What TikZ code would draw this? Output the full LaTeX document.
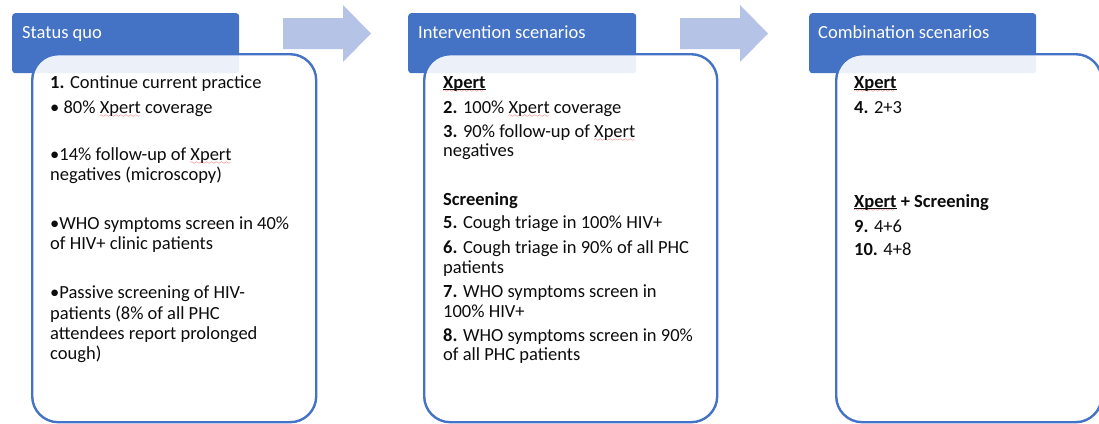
\documentclass[tikz,border=0pt]{standalone}
\usepackage{fontspec}
\setmainfont{Carlito}
\definecolor{hblue}{HTML}{4472C4}
\definecolor{arrowc}{HTML}{B4C3E6}
\definecolor{spellred}{HTML}{F02020}
\definecolor{txt}{HTML}{0D0D0D}
\font\wavefont=lasy6
\newsavebox\spbox
\newsavebox\ulbox
\newcommand\spell[1]{\leavevmode\sbox\spbox{#1}\rlap{\color{spellred}\lower4.6pt\hbox to\wd\spbox{\leaders\hbox{\wavefont\char58}\hfil}}\usebox\spbox}
\newcommand\uln[1]{\leavevmode\sbox\ulbox{#1}\rlap{\rule[-2.2pt]{\wd\ulbox}{1.1pt}}\usebox\ulbox}
\newcommand\bodyfont{\fontsize{18.5}{20}\selectfont}
\tikzset{
  hdr/.style={fill=hblue, rounded corners=3pt, draw=none, inner sep=0, anchor=north west},
  panel/.style={draw=hblue, line width=2.4pt, fill=white, fill opacity=0.9, draw opacity=1,
                rounded corners=26pt, inner sep=0, anchor=north west},
  hdrtext/.style={text=white, font=\bodyfont, anchor=base west, inner sep=0},
  bodytext/.style={text=txt, font=\bodyfont, anchor=base west, inner sep=0},
  blockarrow/.style={fill=arrowc, draw=none},
}
\begin{document}
\begin{tikzpicture}[x=1pt, y=-1pt]
\useasboundingbox (0,0) rectangle (1099,423);

% headers
\node[hdr, minimum width=227, minimum height=60] (h1) at (12,13) {};
\node[hdr, minimum width=228, minimum height=60] (h2) at (408,13) {};
\node[hdr, minimum width=227, minimum height=60] (h3) at (809,13) {};

\node[hdrtext] (t1) at (22,38) {Status quo};
\node[hdrtext] (t2) at (418,38) {Intervention scenarios};
\node[hdrtext] (t3) at (818,38) {Combination scenarios};

% panels
\node[panel, minimum width=284, minimum height=368] (p1) at (31,53) {};
\node[panel, minimum width=293, minimum height=368] (p2) at (423,53) {};
\node[panel, minimum width=265.5, minimum height=368] (p3) at (835,53) {};

% block arrows
\coordinate (a1) at (283,33.5);
\coordinate (a2) at (680,33.5);
\foreach \a in {a1,a2}{
  \fill[blockarrow] (\a) ++(0,-15.5) -- ++(60,0) -- ++(0,-13) -- ++(28,28.5)
     -- ++(-28,28.5) -- ++(0,-13) -- ++(-60,0) -- cycle;
}

% panel texts
\node[bodytext] (b1) at (50,88) {\parbox[t]{265pt}{\bodyfont
\textbf{1.} Continue current practice\\[5pt]
• 80\% \spell{Xpert} coverage\\[27pt]
•14\% follow-up of \spell{Xpert}\\
negatives (microscopy)\\[29pt]
•WHO symptoms screen in 40\%\\
of HIV+ clinic patients\\[29pt]
•Passive screening of HIV-\\[1pt]
patients (8\% of all PHC\\
attendees report prolonged\\
cough)}};

\node[bodytext] (b2) at (443,88) {\parbox[t]{270pt}{\bodyfont
\spell{\uln{\textbf{Xpert}}}\\[5pt]
\textbf{2.} 100\% \spell{Xpert} coverage\\[4pt]
\textbf{3.} 90\% follow-up of \spell{Xpert}\\[-1pt]
negatives\\[29pt]
\textbf{Screening}\\[3pt]
\textbf{5.} Cough triage in 100\% HIV+\\[5pt]
\textbf{6.} Cough triage in 90\% of all PHC\\
patients\\[4pt]
\textbf{7.} WHO symptoms screen in\\
100\% HIV+\\[4pt]
\textbf{8.} WHO symptoms screen in 90\%\\[-1pt]
of all PHC patients}};

\node[bodytext] (b3) at (854,88) {\parbox[t]{230pt}{\bodyfont
\spell{\uln{\textbf{Xpert}}}\\[5pt]
\textbf{4.} 2+3\\[74pt]
\textbf{\spell{\uln{Xpert}} + Screening}\\[5pt]
\textbf{9.} 4+6\\[3pt]
\textbf{10.} 4+8}};
\end{tikzpicture}
\end{document}
